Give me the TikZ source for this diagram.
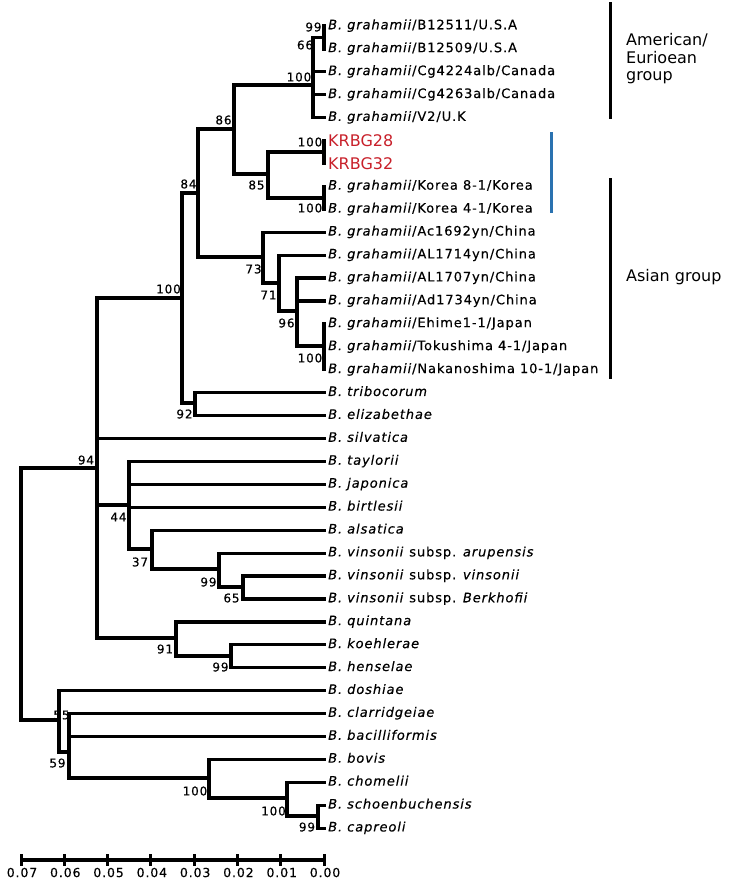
\documentclass[tikz,border=0pt]{standalone}
\usepackage{fontspec}
\setmainfont{DejaVu Sans}
\newfontfamily\labfont[LetterSpace=7,FakeBold=0.4]{DejaVu Sans}
\newfontfamily\numfont[LetterSpace=7,FakeBold=0.4]{DejaVu Sans}
\definecolor{krred}{HTML}{C8202A}
\definecolor{grpblue}{HTML}{2A72B0}
\newcommand\leafy[1]{26+22.92*#1}
\begin{document}
\begin{tikzpicture}[x=1pt,y=-1pt,
  br/.style={line width=3.3pt, line join=miter},
  leaf/.style={anchor=west, inner sep=0pt, text height=9pt, text depth=2.5pt, font=\labfont\fontsize{13}{13}\selectfont},
  kr/.style={anchor=west, inner sep=0pt, text height=11.5pt, text depth=0pt, text=krred, font=\fontsize{16}{16}\selectfont},
  bs/.style={inner sep=0pt, font=\numfont\fontsize{12}{12}\selectfont},
  sclab/.style={inner sep=0pt, font=\numfont\fontsize{12.5}{12.5}\selectfont},
  grp/.style={anchor=west, inner sep=0pt, text height=11.5pt, text depth=3pt, font=\fontsize{16}{16}\selectfont},
  gbar/.style={line width=3pt}]
\useasboundingbox (0,0) rectangle (741,884);
% tips
\foreach \i in {0,...,35} \coordinate (t\i) at (326,{\leafy{\i}});
% leaves
\node[leaf] (l0) at (328,{\leafy{0}}) {\textit{B. grahamii}/B12511/U.S.A};
\node[leaf] (l1) at (328,{\leafy{1}}) {\textit{B. grahamii}/B12509/U.S.A};
\node[leaf] (l2) at (328,{\leafy{2}}) {\textit{B. grahamii}/Cg4224alb/Canada};
\node[leaf] (l3) at (328,{\leafy{3}}) {\textit{B. grahamii}/Cg4263alb/Canada};
\node[leaf] (l4) at (328,{\leafy{4}}) {\textit{B. grahamii}/V2/U.K};
\node[kr] (l5) at (328,{\leafy{5}}) {KRBG28};
\node[kr] (l6) at (328,{\leafy{6}}) {KRBG32};
\node[leaf] (l7) at (328,{\leafy{7}}) {\textit{B. grahamii}/Korea 8-1/Korea};
\node[leaf] (l8) at (328,{\leafy{8}}) {\textit{B. grahamii}/Korea 4-1/Korea};
\node[leaf] (l9) at (328,{\leafy{9}}) {\textit{B. grahamii}/Ac1692yn/China};
\node[leaf] (l10) at (328,{\leafy{10}}) {\textit{B. grahamii}/AL1714yn/China};
\node[leaf] (l11) at (328,{\leafy{11}}) {\textit{B. grahamii}/AL1707yn/China};
\node[leaf] (l12) at (328,{\leafy{12}}) {\textit{B. grahamii}/Ad1734yn/China};
\node[leaf] (l13) at (328,{\leafy{13}}) {\textit{B. grahamii}/Ehime1-1/Japan};
\node[leaf] (l14) at (328,{\leafy{14}}) {\textit{B. grahamii}/Tokushima 4-1/Japan};
\node[leaf] (l15) at (328,{\leafy{15}}) {\textit{B. grahamii}/Nakanoshima 10-1/Japan};
\node[leaf] (l16) at (328,{\leafy{16}}) {\textit{B. tribocorum}};
\node[leaf] (l17) at (328,{\leafy{17}}) {\textit{B. elizabethae}};
\node[leaf] (l18) at (328,{\leafy{18}}) {\textit{B. silvatica}};
\node[leaf] (l19) at (328,{\leafy{19}}) {\textit{B. taylorii}};
\node[leaf] (l20) at (328,{\leafy{20}}) {\textit{B. japonica}};
\node[leaf] (l21) at (328,{\leafy{21}}) {\textit{B. birtlesii}};
\node[leaf] (l22) at (328,{\leafy{22}}) {\textit{B. alsatica}};
\node[leaf] (l23) at (328,{\leafy{23}}) {\textit{B. vinsonii} subsp. \textit{arupensis}};
\node[leaf] (l24) at (328,{\leafy{24}}) {\textit{B. vinsonii} subsp. \textit{vinsonii}};
\node[leaf] (l25) at (328,{\leafy{25}}) {\textit{B. vinsonii} subsp. \textit{Berkhofii}};
\node[leaf] (l26) at (328,{\leafy{26}}) {\textit{B. quintana}};
\node[leaf] (l27) at (328,{\leafy{27}}) {\textit{B. koehlerae}};
\node[leaf] (l28) at (328,{\leafy{28}}) {\textit{B. henselae}};
\node[leaf] (l29) at (328,{\leafy{29}}) {\textit{B. doshiae}};
\node[leaf] (l30) at (328,{\leafy{30}}) {\textit{B. clarridgeiae}};
\node[leaf] (l31) at (328,{\leafy{31}}) {\textit{B. bacilliformis}};
\node[leaf] (l32) at (328,{\leafy{32}}) {\textit{B. bovis}};
\node[leaf] (l33) at (328,{\leafy{33}}) {\textit{B. chomelii}};
\node[leaf] (l34) at (328,{\leafy{34}}) {\textit{B. schoenbuchensis}};
\node[leaf] (l35) at (328,{\leafy{35}}) {\textit{B. capreoli}};
% internal nodes
\coordinate (a99) at (324,37.5);
\coordinate (a100) at (313,85);
\coordinate (n86) at (234,129);
\coordinate (n85) at (268,174);
\coordinate (k100) at (324,152);
\coordinate (kor100) at (324,198);
\coordinate (n84) at (198,193);
\coordinate (n73) at (263,257);
\coordinate (n71) at (279,283);
\coordinate (n96) at (297,311);
\coordinate (j100) at (324,346);
\coordinate (nbig) at (182,298);
\coordinate (n92) at (195,403);
\coordinate (n94) at (97,468);
\coordinate (n44) at (129,505);
\coordinate (n37) at (152,549);
\coordinate (n99b) at (219,569);
\coordinate (n65) at (243,587);
\coordinate (n91) at (176,638);
\coordinate (n99c) at (231,656);
\coordinate (root) at (21,594);
\coordinate (n55) at (59,720);
\coordinate (n59) at (69,752);
\coordinate (n100d) at (209,778);
\coordinate (n100e) at (287,798);
\coordinate (n99d) at (318,816);
% branches
\draw[br] (a99) |- (t0) (a99) |- (t1);
\draw[br] (a100) |- (a99) (a100) |- (t2) (a100) |- (t3) (a100) |- (t4);
\draw[br] (n86) |- (a100) (n86) |- (n85);
\draw[br] (n85) |- (k100) (n85) |- (kor100);
\draw[br] (k100) |- (t5) (k100) |- (t6);
\draw[br] (kor100) |- (t7) (kor100) |- (t8);
\draw[br] (n84) |- (n86) (n84) |- (n73);
\draw[br] (n73) |- (t9) (n73) |- (n71);
\draw[br] (n71) |- (t10) (n71) |- (n96);
\draw[br] (n96) |- (t11) (n96) |- (t12) (n96) |- (j100);
\draw[br] (j100) |- (t13) (j100) |- (t14) (j100) |- (t15);
\draw[br] (nbig) |- (n84) (nbig) |- (n92);
\draw[br] (n92) |- (t16) (n92) |- (t17);
\draw[br] (n94) |- (nbig) (n94) |- (t18) (n94) |- (n44) (n94) |- (n91);
\draw[br] (n44) |- (t19) (n44) |- (t20) (n44) |- (t21) (n44) |- (n37);
\draw[br] (n37) |- (t22) (n37) |- (n99b);
\draw[br] (n99b) |- (t23) (n99b) |- (n65);
\draw[br] (n65) |- (t24) (n65) |- (t25);
\draw[br] (n91) |- (t26) (n91) |- (n99c);
\draw[br] (n99c) |- (t27) (n99c) |- (t28);
\draw[br] (root) |- (n94) (root) |- (n55);
\draw[br] (n55) |- (t29) (n55) |- (n59);
\draw[br] (n59) |- (t30) (n59) |- (t31) (n59) |- (n100d);
\draw[br] (n100d) |- (t32) (n100d) |- (n100e);
\draw[br] (n100e) |- (t33) (n100e) |- (n99d);
\draw[br] (n99d) |- (t34) (n99d) |- (t35);
% bootstrap values
\node[bs] (b1) at (313.5,27) {99};
\node[bs] (b2) at (305,45) {66};
\node[bs] (b3) at (299,77) {100};
\node[bs] (b4) at (223.5,120) {86};
\node[bs] (b5) at (256.5,185) {85};
\node[bs] (b6) at (310,142) {100};
\node[bs] (b7) at (310,208) {100};
\node[bs] (b8) at (188.5,184) {84};
\node[bs] (b9) at (168.5,289) {100};
\node[bs] (b10) at (253.5,269) {73};
\node[bs] (b11) at (268.5,295) {71};
\node[bs] (b12) at (286.5,323) {96};
\node[bs] (b13) at (310,358) {100};
\node[bs] (b14) at (184.5,414) {92};
\node[bs] (b15) at (86,460) {94};
\node[bs] (b16) at (118.5,517) {44};
\node[bs] (b17) at (140,562) {37};
\node[bs] (b18) at (208.5,582) {99};
\node[bs] (b19) at (231.5,598) {65};
\node[bs] (b20) at (165,649) {91};
\node[bs] (b21) at (220.5,667) {99};
\node[bs] (b22) at (61.5,715) {55};
\node[bs] (b23) at (57.5,763) {59};
\node[bs] (b24) at (195,791) {100};
\node[bs] (b25) at (273.5,811) {100};
\node[bs] (b26) at (307,827) {99};
% scale bar
\coordinate (s0) at (21,860);
\coordinate (s7) at (324,860);
\draw[br] (s0) -- (s7);
\foreach \k/\lbl in {0/0.07,1/0.06,2/0.05,3/0.04,4/0.03,5/0.02,6/0.01,7/0.00}{
  \coordinate (tk\k a) at ({21+43.29*\k},854);
  \coordinate (tk\k b) at ({21+43.29*\k},866);
  \draw[line width=3pt] (tk\k a) -- (tk\k b);
  \node[sclab] (sl\k) at ({22+43.29*\k},872.5) {\lbl};
}
% group bars
\coordinate (g1a) at (610,2);
\coordinate (g1b) at (610,119);
\coordinate (g2a) at (610,178);
\coordinate (g2b) at (610,379);
\coordinate (g3a) at (551,132);
\coordinate (g3b) at (551,213);
\draw[gbar] (g1a) -- (g1b);
\draw[gbar] (g2a) -- (g2b);
\draw[gbar, grpblue] (g3a) -- (g3b);
\node[grp] (gA1) at (626,41) {American/};
\node[grp] (gA2) at (626,59) {Eurioean};
\node[grp] (gA3) at (626,76) {group};
\node[grp] (gB) at (626,277) {Asian group};
\end{tikzpicture}
\end{document}
